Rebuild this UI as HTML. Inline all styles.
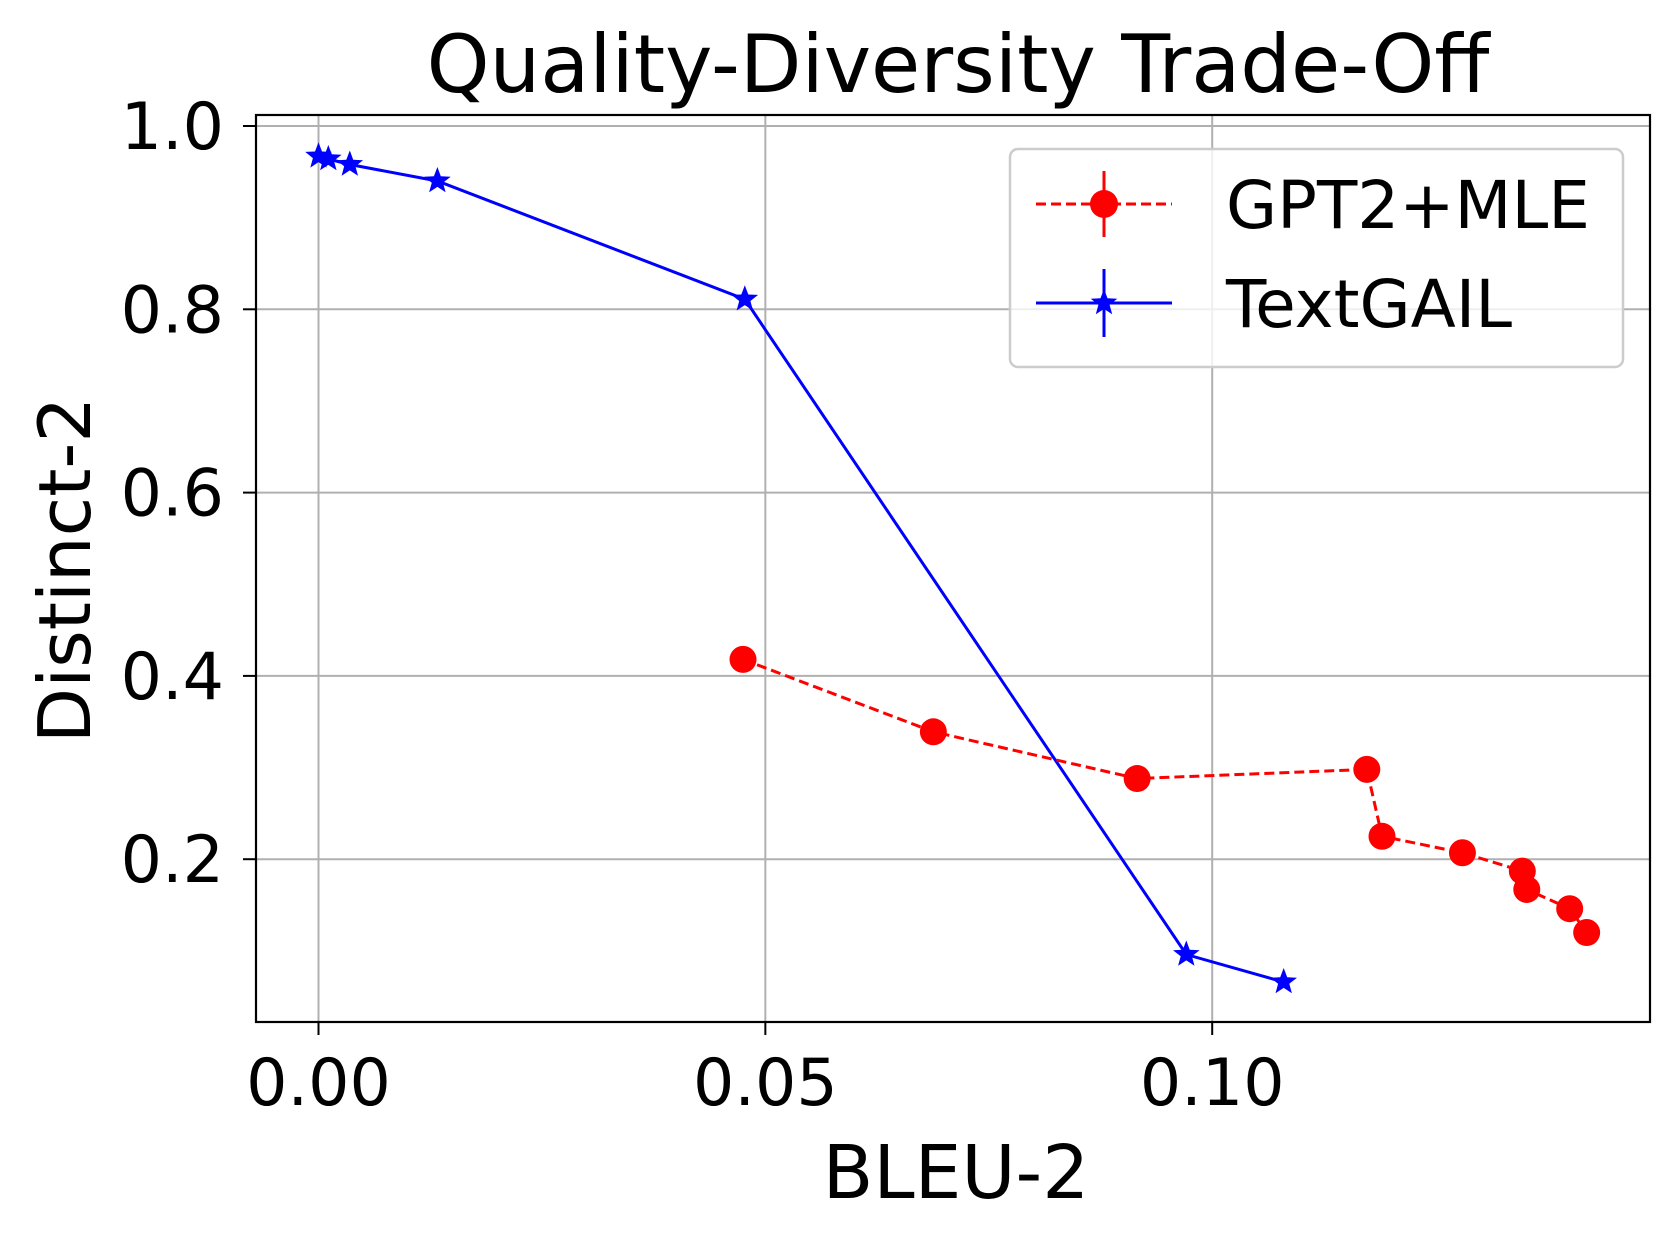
<!DOCTYPE html>
<html><head><meta charset="utf-8"><style>
html,body{margin:0;padding:0;background:#fff;}
svg{display:block;font-family:"DejaVu Sans","Liberation Sans",sans-serif;}
</style></head><body>
<svg id="chart" width="1679" height="1236" viewBox="0 0 1679 1236">
<text x="958" y="92" font-size="80" text-anchor="middle">Quality-Diversity Trade-Off</text>
<text x="956" y="1198" font-size="74" text-anchor="middle">BLEU-2</text>
<text transform="translate(90,570) rotate(-90)" font-size="72" text-anchor="middle">Distinct-2</text>
<g id="grid"></g><g id="series"></g><g id="ticks"></g>
<rect x="256" y="115" width="1394" height="907" fill="none" stroke="#000" stroke-width="2.2"/>
<g>
<rect x="1010" y="149" width="613" height="218" rx="8" fill="#fff" fill-opacity="0.8" stroke="#ccc" stroke-width="2.5"/>
<g>
<line x1="1036" y1="204" x2="1172" y2="204" stroke="red" stroke-width="3" stroke-dasharray="10,5"/>
<line x1="1104" y1="171" x2="1104" y2="237" stroke="red" stroke-width="3"/>
<circle cx="1104" cy="204" r="14" fill="red"/>
<text x="1226" y="228" font-size="66">GPT2+MLE</text></g>
<g>
<line x1="1036" y1="303" x2="1172" y2="303" stroke="blue" stroke-width="3"/>
<line x1="1104" y1="269" x2="1104" y2="337" stroke="blue" stroke-width="3"/>
<polygon id="legstar" fill="blue"/>
<text x="1226" y="327" font-size="66">TextGAIL</text></g>
</g>
</svg>
<script>
const xTicks=[0,0.05,0.10];
const xTickLabels=["0.00","0.05","0.10"];
const yTicks=[0.2,0.4,0.6,0.8,1.0];
const yTickLabels=["0.2","0.4","0.6","0.8","1.0"];
const mleX=[0.0475,0.0688,0.0916,0.1173,0.119,0.128,0.1347,0.1352,0.140,0.1419];
const mleY=[0.418,0.339,0.288,0.298,0.225,0.207,0.187,0.167,0.146,0.120];
const gailX=[0,0.0011,0.0035,0.0133,0.0477,0.0971,0.108];
const gailY=[0.967,0.964,0.958,0.940,0.811,0.096,0.066];
const NS="http://www.w3.org/2000/svg";
const sx=v=>318.5+v*8937;
const sy=v=>126+(1-v)*916.5;
function mk(tag,attrs,parent){const e=document.createElementNS(NS,tag);for(const k in attrs)e.setAttribute(k,attrs[k]);parent.appendChild(e);return e;}
function starPts(cx,cy,R){const r=R*0.42;let p=[];for(let i=0;i<10;i++){const a=-Math.PI/2+i*Math.PI/5;const rr=i%2?r:R;p.push((cx+rr*Math.cos(a)).toFixed(1)+","+(cy+rr*Math.sin(a)).toFixed(1));}return p.join(" ");}
const grid=document.getElementById('grid'),ticks=document.getElementById('ticks'),series=document.getElementById('series');
xTicks.forEach((t,i)=>{
 const g=mk('line',{x1:sx(t),x2:sx(t),y1:115,y2:1022,stroke:'#b0b0b0','stroke-width':2},grid);
 
 
 mk('line',{x1:sx(t),x2:sx(t),y1:1022,y2:1035,stroke:'#000','stroke-width':2},ticks);
 const tx=mk('text',{x:sx(t),y:1105,'font-size':65,'text-anchor':'middle'},ticks);
 tx.textContent=xTickLabels[i];
 
 
});
yTicks.forEach((t,i)=>{
 const g=mk('line',{x1:256,x2:1650,y1:sy(t),y2:sy(t),stroke:'#b0b0b0','stroke-width':2},grid);
 
 
 mk('line',{x1:243,x2:256,y1:sy(t),y2:sy(t),stroke:'#000','stroke-width':2},ticks);
 const tx=mk('text',{x:224,y:sy(t)+23,'font-size':65,'text-anchor':'end'},ticks);
 tx.textContent=yTickLabels[i];
 
 
});
const gl=mk('polyline',{points:gailX.map((x,i)=>sx(x)+","+sy(gailY[i])).join(" "),fill:'none',stroke:'blue','stroke-width':3},series);


const ml=mk('polyline',{points:mleX.map((x,i)=>sx(x)+","+sy(mleY[i])).join(" "),fill:'none',stroke:'red','stroke-width':3,'stroke-dasharray':'10,5'},series);


mleX.forEach((x,i)=>{
 const c=mk('circle',{cx:sx(x),cy:sy(mleY[i]),r:13.5,fill:'red'},series);
 
 
});
gailX.forEach((x,i)=>{
 const s=mk('polygon',{points:starPts(sx(x),sy(gailY[i]),14),fill:'blue'},series);
 
 
});
document.getElementById('legstar').setAttribute('points',starPts(1104,303,14));
</script>
</body></html>
